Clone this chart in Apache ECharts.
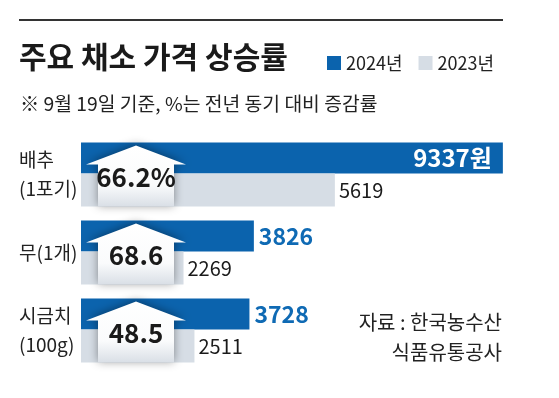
<!DOCTYPE html>
<html>
<head>
<meta charset="utf-8">
<script src="https://cdn.jsdelivr.net/npm/echarts@6/dist/echarts.min.js"></script>
<style>
  html, body { margin: 0; padding: 0; background: #fff; }
  #chart { width: 559px; height: 398px; }
</style>
</head>
<body>
<div id="chart"></div>
<script>
const categories = ['배추\n(1포기)', '무(1개)', '시금치\n(100g)'];
const values2024 = [9337, 3826, 3728];
const values2023 = [5619, 2269, 2511];
const changeRates = [66.2, 68.6, 48.5];
const rateLabels = ['66.2%', '68.6', '48.5'];
const seriesNames = ['2024년', '2023년'];
const unitFirst = '원';

const FONT = '"Noto Sans CJK KR", "Noto Sans", sans-serif';
const BLUE = '#0b63ad';
const GRAY = '#d6dde5';

const chart = echarts.init(document.getElementById('chart'), null, { renderer: 'canvas' });

const option = {
  animation: false,
  backgroundColor: '#ffffff',
  textStyle: { fontFamily: FONT },
  legend: {
    data: seriesNames,
    left: 327,
    top: 54,
    padding: 0,
    icon: 'rect',
    itemWidth: 14,
    itemHeight: 14,
    itemGap: 16,
    textStyle: { fontFamily: FONT, fontSize: 18, color: '#222' }
  },
  graphic: [
    { type: 'line', shape: { x1: 19, y1: 20, x2: 503, y2: 20 }, style: { stroke: '#333', lineWidth: 2 } },
    { type: 'text', x: 19, y: 57, style: { text: '주요 채소 가격 상승률', font: 'bold 30px ' + FONT, fill: '#1a1a1a', textVerticalAlign: 'middle' } },
    { type: 'text', x: 20, y: 104, style: { text: '※ 9월 19일 기준, %는 전년 동기 대비 증감률', font: '19.3px ' + FONT, fill: '#222', textVerticalAlign: 'middle' } },
    { type: 'text', x: 502, y: 322, style: { text: '자료 : 한국농수산', font: '20px ' + FONT, fill: '#222', textAlign: 'right', textVerticalAlign: 'middle' } },
    { type: 'text', x: 502, y: 352, style: { text: '식품유통공사', font: '20px ' + FONT, fill: '#222', textAlign: 'right', textVerticalAlign: 'middle' } }
  ],
  grid: { left: 81, top: 135.5, width: 422, height: 234 },
  xAxis: {
    type: 'value', min: 0, max: 9340,
    show: false, splitLine: { show: false }
  },
  yAxis: {
    type: 'category',
    data: categories,
    inverse: true,
    axisLine: { show: false },
    axisTick: { show: false },
    axisLabel: {
      margin: 62,
      align: 'left',
      fontFamily: FONT,
      fontSize: 19,
      lineHeight: 29,
      color: '#222'
    }
  },
  series: [
    {
      name: seriesNames[0],
      type: 'bar',
      barWidth: 31,
      barGap: '0%',
      itemStyle: { color: BLUE },
      z: 2,
      data: values2024.map((v, i) => i === 0 ? {
        value: v,
        label: { position: 'insideRight', distance: 11, color: '#fff', fontSize: 24 }
      } : v),
      label: {
        show: true,
        position: 'right',
        distance: 5,
        color: '#0f6ab4',
        fontFamily: FONT,
        fontWeight: 'bold',
        fontSize: 23,
        formatter: p => p.dataIndex === 0 ? p.value + unitFirst : String(p.value)
      }
    },
    {
      name: seriesNames[1],
      type: 'bar',
      barWidth: 33,
      barGap: '0%',
      itemStyle: { color: GRAY },
      z: 2,
      data: values2023,
      label: {
        show: true,
        position: 'right',
        distance: 4,
        color: '#1a1a1a',
        fontFamily: FONT,
        fontSize: 20
      }
    },
    {
      name: 'rate',
      type: 'custom',
      z: 5,
      clip: false,
      data: changeRates.map((r, i) => [0, i, r]),
      renderItem: function (params, api) {
        const p = api.coord([api.value(0), api.value(1)]);
        const T = p[1] - 32;
        const cx = p[0] + 55;
        const B = T + 64;
        const pts = [
          [cx, T + 3],
          [cx + 50, T + 22],
          [cx + 38, T + 22],
          [cx + 38, B],
          [cx - 38, B],
          [cx - 38, T + 22],
          [cx - 50, T + 22]
        ];
        return {
          type: 'group',
          children: [
            {
              type: 'polygon',
              shape: { points: pts },
              style: {
                fill: new echarts.graphic.LinearGradient(0, 0, 0, 1, [
                  { offset: 0, color: '#ffffff' },
                  { offset: 0.65, color: '#fafbfc' },
                  { offset: 1, color: '#d9dfe6' }
                ]),
                shadowBlur: 10,
                shadowColor: 'rgba(0,0,0,0.4)',
                shadowOffsetY: -1
              }
            },
            {
              type: 'text',
              x: cx,
              y: T + 35,
              style: {
                text: rateLabels[params.dataIndex],
                font: 'bold 26px ' + FONT,
                fill: '#1a1a1a',
                textAlign: 'center',
                textVerticalAlign: 'middle'
              }
            }
          ]
        };
      }
    }
  ]
};

chart.setOption(option);
</script>
</body>
</html>
